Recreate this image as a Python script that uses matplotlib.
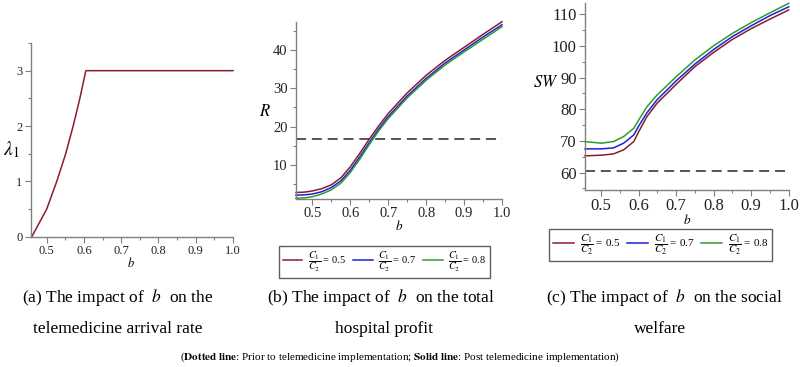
import matplotlib
matplotlib.use("Agg")
import matplotlib.pyplot as plt
from matplotlib.ticker import MultipleLocator

plt.rcParams['font.family'] = ['Liberation Serif', 'DejaVu Serif']
plt.rcParams['mathtext.fontset'] = 'stix'

# ---------------- data ----------------
b_lam = [0.46, 0.48, 0.50, 0.527, 0.551, 0.571, 0.589, 0.605, 1.0]
lam1 = [0.0, 0.25, 0.5, 1.0, 1.5, 2.0, 2.5, 3.0, 3.0]

b_R = [0.457, 0.48, 0.5, 0.525, 0.55, 0.575, 0.6, 0.625, 0.65, 0.675, 0.7,
       0.75, 0.8, 0.85, 0.9, 0.95, 1.0]
R_05 = [2.8, 2.9, 3.2, 3.8, 4.8, 6.6, 9.5, 13.0, 16.7, 20.2, 23.4, 28.8, 33.4,
        37.3, 40.7, 44.1, 47.4]
R_07 = [2.1, 2.2, 2.4, 3.0, 4.1, 5.8, 8.6, 12.1, 15.8, 19.4, 22.6, 28.0, 32.6,
        36.6, 40.0, 43.4, 46.6]
R_08 = [1.3, 1.4, 1.7, 2.4, 3.5, 5.2, 8.0, 11.5, 15.3, 18.9, 22.1, 27.5, 32.1,
        36.1, 39.5, 42.8, 46.1]
R_prior = 16.7

b_SW = [0.457, 0.5, 0.533, 0.56, 0.587, 0.6, 0.622, 0.649, 0.7, 0.75, 0.8,
        0.85, 0.9, 0.95, 1.0]
SW_05 = [65.3, 65.5, 65.9, 67.2, 69.8, 72.9, 77.7, 81.9, 87.9, 93.5, 98.0,
         102.1, 105.5, 108.5, 111.4]
SW_07 = [67.5, 67.5, 67.8, 69.3, 71.9, 74.7, 78.9, 83.0, 89.0, 94.3, 98.9,
         103.0, 106.4, 109.6, 112.4]
SW_08 = [69.8, 69.3, 69.8, 71.4, 74.0, 76.6, 80.8, 84.5, 90.3, 95.6, 100.1,
         104.0, 107.4, 110.5, 113.5]
SW_prior = 60.6

ratio_labels = ['0.5', '0.7', '0.8']
colors = ['#8B1C2C', '#1F1FD8', '#2E9B2E']
x_ticks = [0.5, 0.6, 0.7, 0.8, 0.9, 1.0]

W, H = 800, 367
fig = plt.figure(figsize=(8, 3.67), dpi=100)


def px_axes(l, t, r, b):
    return fig.add_axes([l / W, 1 - b / H, (r - l) / W, (b - t) / H])


def style(ax, fs, ymaj, ymin):
    for s in ['top', 'right']:
        ax.spines[s].set_visible(False)
    for s in ['left', 'bottom']:
        ax.spines[s].set_color('#808080')
        ax.spines[s].set_linewidth(1.0)
    ax.set_xticks(x_ticks)
    ax.set_xticklabels(['%.1f' % v for v in x_ticks])
    ax.xaxis.set_minor_locator(MultipleLocator(0.05))
    ax.yaxis.set_major_locator(MultipleLocator(ymaj))
    ax.yaxis.set_minor_locator(MultipleLocator(ymin))
    ax.tick_params(which='both', direction='out', color='#808080',
                   labelsize=fs, labelcolor='#222222', width=0.8)
    ax.tick_params(which='major', length=4, pad=2)
    ax.tick_params(which='minor', length=2.5)


def add_legend(ax, left, top, width, fs):
    ax.legend(loc='upper left',
              bbox_to_anchor=(left / W, 1 - top / H, width / W, 0.0),
              bbox_transform=fig.transFigure, mode='expand', ncol=3,
              fontsize=fs, frameon=True, fancybox=False, edgecolor='#606060',
              framealpha=1, handlelength=1.9, handletextpad=0.5,
              columnspacing=0.4, borderpad=0.35, borderaxespad=0)


# ---- panel (a)
axa = px_axes(30.7, 43, 233, 236.7)
axa.plot(b_lam, lam1, color=colors[0], lw=1.1, clip_on=False)
axa.set_xlim(0.457, 1.0)
axa.set_ylim(0, 3.5)
style(axa, 9, 1, 0.5)
axa.set_yticks([0, 1, 2, 3])
fig.text(11 / W, 1 - 150 / H, r'$\lambda_1$', fontsize=14, ha='center', va='center')
fig.text(131 / W, 1 - 263 / H, r'$b$', fontsize=9, ha='center', va='center')

# ---- panel (b)
axb = px_axes(296, 21.7, 502, 199)
for ys, c, lab in zip([R_05, R_07, R_08], colors, ratio_labels):
    axb.plot(b_R, ys, color=c, lw=1.1, clip_on=False,
             label=r'$\dfrac{C_1}{C_2}$ = ' + lab)
axb.axhline(R_prior, color='#3a3a3a', lw=1.2, linestyle=(0, (6, 3.5)))
axb.set_xlim(0.457, 1.0)
axb.set_ylim(1.1, 47.4)
style(axb, 10.5, 10, 5)
fig.text(265 / W, 1 - 112 / H, r'$R$', fontsize=12, ha='center', va='center')
fig.text(399 / W, 1 - 226 / H, r'$b$', fontsize=9.5, ha='center', va='center')
add_legend(axb, 279, 246, 211, 7.5)

# ---- panel (c)
axc = px_axes(585, 3, 788.7, 190)
for ys, c, lab in zip([SW_05, SW_07, SW_08], colors, ratio_labels):
    axc.plot(b_SW, ys, color=c, lw=1.1, clip_on=False,
             label=r'$\dfrac{C_1}{C_2}$ = ' + lab)
axc.axhline(SW_prior, color='#3a3a3a', lw=1.2, linestyle=(0, (6, 3.5)))
axc.set_xlim(0.457, 1.0)
axc.set_ylim(54.5, 113.6)
style(axc, 12, 10, 5)
fig.text(546 / W, 1 - 83 / H, r'$SW$', fontsize=12, ha='center', va='center')
fig.text(687 / W, 1 - 220 / H, r'$b$', fontsize=9.5, ha='center', va='center')
add_legend(axc, 549, 229, 223, 8)

# ---- captions
cap_fs = 12.5
fig.text(118 / W, 1 - 298 / H, r'(a) The impact of  $b$  on the', fontsize=cap_fs,
         ha='center', va='center')
fig.text(118 / W, 1 - 329 / H, 'telemedicine arrival rate', fontsize=cap_fs,
         ha='center', va='center')
fig.text(381 / W, 1 - 298 / H, r'(b) The impact of  $b$  on the total', fontsize=cap_fs,
         ha='center', va='center')
fig.text(384 / W, 1 - 329 / H, 'hospital profit', fontsize=cap_fs,
         ha='center', va='center')
fig.text(664 / W, 1 - 298 / H, r'(c) The impact of  $b$  on the social', fontsize=cap_fs,
         ha='center', va='center')
fig.text(660 / W, 1 - 329 / H, 'welfare', fontsize=cap_fs,
         ha='center', va='center')
fig.text(400 / W, 1 - 357 / H,
         r'($\mathbf{Dotted\ line}$: Prior to telemedicine implementation; '
         r'$\mathbf{Solid\ line}$: Post telemedicine implementation)',
         fontsize=8, ha='center', va='center')

fig.savefig('out.png', dpi=100)
